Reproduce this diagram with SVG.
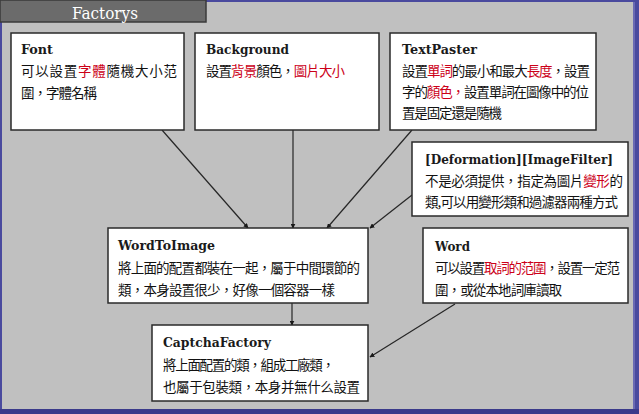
<svg xmlns="http://www.w3.org/2000/svg" width="639" height="414" viewBox="0 0 639 414">
<defs>
<style>
.box{fill:#ffffff;stroke:#2a2a2a;stroke-width:1.5}
.ttl{font-family:"DejaVu Serif","Liberation Serif",serif;font-weight:bold;font-size:13.5px;fill:#1a1a1a}
.txt{font-family:"Noto Sans CJK TC","Noto Sans CJK SC",sans-serif;font-size:13.5px;fill:#111111}
.red{fill:#cc0018}
.edge{stroke:#262626;stroke-width:1.2;fill:none;marker-end:url(#ah)}
</style>
<marker id="ah" viewBox="0 0 8 8" refX="7" refY="4" markerWidth="5" markerHeight="5" orient="auto" markerUnits="userSpaceOnUse">
<path d="M0,0 L8,4 L0,8 z" fill="#1a1a1a"/>
</marker>
</defs>

<!-- background and frame -->
<rect x="0" y="0" width="639" height="414" fill="#4a4a9e"/>
<rect x="2" y="2" width="631" height="407" fill="#c0c0c0"/>
<rect x="633" y="2" width="2" height="407" fill="#6a6ab4"/>
<rect x="0" y="409" width="639" height="5" fill="#3a3a8a"/>

<!-- title tab -->
<g id="tab">
<rect x="0" y="0" width="206" height="22" fill="#6b6b6b" stroke="#3a3a3a" stroke-width="1.5"/>
<text x="105" y="19" text-anchor="middle" font-family="DejaVu Serif, Liberation Serif, serif" font-size="16" fill="#ffffff" textLength="66" lengthAdjust="spacingAndGlyphs">Factorys</text>
</g>

<!-- connectors -->
<g id="connectors">
<line class="edge" x1="162" y1="130" x2="248" y2="228"/>
<line class="edge" x1="293" y1="130" x2="293" y2="228"/>
<line class="edge" x1="412" y1="130" x2="327" y2="228"/>
<line class="edge" x1="412" y1="195" x2="370" y2="228"/>
<line class="edge" x1="292" y1="303" x2="292" y2="325"/>
<line class="edge" x1="455" y1="304" x2="370" y2="357"/>
</g>

<g id="font">
<rect class="box" x="11" y="33" width="173" height="97"/>
<text class="ttl" x="21" y="54" textLength="32" lengthAdjust="spacingAndGlyphs">Font</text>
<text class="txt" x="21" y="76" textLength="156" lengthAdjust="spacing">可以設置<tspan class="red">字體</tspan>隨機大小范</text>
<text class="txt" x="21" y="98" textLength="76" lengthAdjust="spacing">圍，字體名稱</text>
</g>

<g id="background">
<rect class="box" x="195" y="33" width="184" height="97"/>
<text class="ttl" x="206" y="54" textLength="83" lengthAdjust="spacingAndGlyphs">Background</text>
<text class="txt" x="206" y="76" textLength="139" lengthAdjust="spacing">設置<tspan class="red">背景</tspan>顏色，<tspan class="red">圖片大小</tspan></text>
</g>

<g id="textpaster">
<rect class="box" x="390" y="33" width="206" height="97"/>
<text class="ttl" x="402" y="54" textLength="75" lengthAdjust="spacingAndGlyphs">TextPaster</text>
<text class="txt" x="402" y="76" textLength="188" lengthAdjust="spacing">設置<tspan class="red">單詞</tspan>的最小和最大<tspan class="red">長度</tspan>，設置</text>
<text class="txt" x="402" y="97" textLength="187" lengthAdjust="spacing">字的<tspan class="red">顏色，</tspan>設置單詞在圖像中的位</text>
<text class="txt" x="402" y="118" textLength="100" lengthAdjust="spacing">置是固定還是隨機</text>
</g>

<g id="deformation">
<rect class="box" x="412" y="142" width="216" height="74"/>
<text class="ttl" x="425" y="164" textLength="188" lengthAdjust="spacingAndGlyphs">[Deformation][ImageFilter]</text>
<text class="txt" x="425" y="186" textLength="198" lengthAdjust="spacing">不是必須提供，指定為圖片<tspan class="red">變形</tspan>的</text>
<text class="txt" x="425" y="207" textLength="193" lengthAdjust="spacing">類,可以用變形類和過濾器兩種方式</text>
</g>

<g id="wordtoimage">
<rect class="box" x="108" y="228" width="260" height="75"/>
<text class="ttl" x="118" y="250" textLength="97" lengthAdjust="spacingAndGlyphs">WordToImage</text>
<text class="txt" x="118" y="273" textLength="242" lengthAdjust="spacing">將上面的配置都裝在一起，屬于中間環節的</text>
<text class="txt" x="118" y="295" textLength="217" lengthAdjust="spacing">類，本身設置很少，好像一個容器一樣</text>
</g>

<g id="word">
<rect class="box" x="423" y="228" width="205" height="75"/>
<text class="ttl" x="435" y="251" textLength="35" lengthAdjust="spacingAndGlyphs">Word</text>
<text class="txt" x="435" y="273" textLength="185" lengthAdjust="spacing">可以設置<tspan class="red">取詞的范圍</tspan>，設置一定范</text>
<text class="txt" x="435" y="295" textLength="127" lengthAdjust="spacing">圍，或從本地詞庫讀取</text>
</g>

<g id="captchafactory">
<rect class="box" x="152" y="325" width="216" height="76"/>
<text class="ttl" x="163" y="347" textLength="108" lengthAdjust="spacingAndGlyphs">CaptchaFactory</text>
<text class="txt" x="163" y="370" textLength="172" lengthAdjust="spacing">將上面配置的類，組成工廠類，</text>
<text class="txt" x="163" y="392" textLength="197" lengthAdjust="spacing">也屬于包裝類，本身并無什么設置</text>
</g>
</svg>
